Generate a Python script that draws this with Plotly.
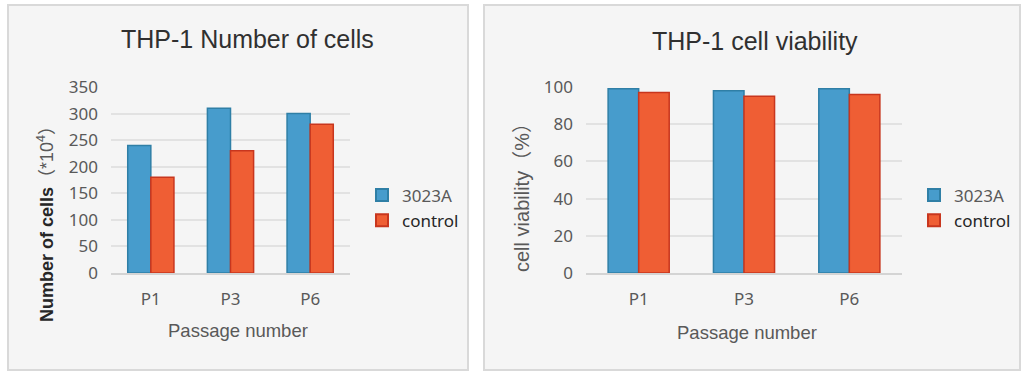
import plotly.graph_objects as go

passages = ["P1", "P3", "P6"]
series_names = ["3023A", "control"]
cells_3023a = [240, 310, 300]
cells_control = [180, 230, 280]
viab_3023a = [99, 98, 99]
viab_control = [97, 95, 96]

W, H = 1027, 379
def px(x):
    return x / W
def py(y):
    return 1 - y / H

blue_fill = "#479ccc"
blue_line = "#2f7fa6"
red_fill = "#ef5e34"
red_line = "#c8361e"
tick_col = "#595959"
tick_font = dict(family="Noto Sans, Open Sans, sans-serif", size=17, color=tick_col)

fig = go.Figure()

fig.add_trace(go.Bar(x=passages, y=cells_3023a, name="<span style='color:#595959'>3023A</span>",
                     marker=dict(color=blue_fill, line=dict(color=blue_line, width=1.5)),
                     xaxis="x", yaxis="y", legend="legend", legendgroup="a"))
fig.add_trace(go.Bar(x=passages, y=cells_control, name="<span style='color:#262626'>control</span>",
                     marker=dict(color=red_fill, line=dict(color=red_line, width=1.5)),
                     xaxis="x", yaxis="y", legend="legend", legendgroup="b"))
fig.add_trace(go.Bar(x=passages, y=viab_3023a, name="<span style='color:#595959'>3023A</span>",
                     marker=dict(color=blue_fill, line=dict(color=blue_line, width=1.5)),
                     xaxis="x2", yaxis="y2", legend="legend2", legendgroup="c"))
fig.add_trace(go.Bar(x=passages, y=viab_control, name="<span style='color:#262626'>control</span>",
                     marker=dict(color=red_fill, line=dict(color=red_line, width=1.5)),
                     xaxis="x2", yaxis="y2", legend="legend2", legendgroup="d"))

ydom = [py(273), py(87)]
xaxis_common = dict(showline=True, linecolor="#d4d4d4", linewidth=2, showgrid=False,
                    ticks="", tickfont=tick_font, ticklabelstandoff=10, fixedrange=True,
                    automargin=False)
yaxis_common = dict(showline=False, showgrid=True, gridcolor="#e2e2e2", gridwidth=1.5,
                    zeroline=False, ticks="", tickfont=tick_font, ticklabelstandoff=12,
                    fixedrange=True, automargin=False)

legend_common = dict(font=dict(family="Noto Sans, Open Sans, sans-serif", size=17, color=tick_col),
                     bgcolor="rgba(0,0,0,0)", xanchor="left", yanchor="middle",
                     xref="container", yref="container",
                     tracegroupgap=0, itemsizing="constant")

fig.update_layout(
    width=W, height=H,
    margin=dict(l=0, r=0, t=0, b=0, pad=0, autoexpand=False),
    paper_bgcolor="white",
    plot_bgcolor="rgba(0,0,0,0)",
    barmode="group", bargap=0.42, bargroupgap=0,
    xaxis=dict(domain=[px(111), px(350)], anchor="y", **xaxis_common),
    yaxis=dict(domain=ydom, anchor="x", range=[0, 350], dtick=50, **yaxis_common),
    xaxis2=dict(domain=[px(586), px(902)], anchor="y2", **xaxis_common),
    yaxis2=dict(domain=ydom, anchor="x2", range=[0, 100], dtick=20, **yaxis_common),
    legend=dict(x=px(362), y=py(208), **legend_common),
    legend2=dict(x=px(914), y=py(208), **legend_common),
    shapes=[
        dict(type="rect", xref="paper", yref="paper", x0=px(8), x1=px(468), y0=py(370), y1=py(5),
             fillcolor="#f5f5f5", line=dict(color="#d9d9d9", width=2), layer="below"),
        dict(type="rect", xref="paper", yref="paper", x0=px(484), x1=px(1020), y0=py(370), y1=py(5),
             fillcolor="#f5f5f5", line=dict(color="#d9d9d9", width=2), layer="below"),
    ],
)

title_font = dict(family="Liberation Sans, Arial, sans-serif", size=25, color="#303030")
axis_title_font = dict(family="Liberation Sans, Arial, sans-serif", size=18.5, color=tick_col)

annotations = [
    dict(text="THP-1 Number of cells", x=px(247), y=py(39), font=title_font),
    dict(text="THP-1 cell viability", x=px(755), y=py(41), font=title_font),
    dict(text="Passage number", x=px(238), y=py(330), font=axis_title_font),
    dict(text="Passage number", x=px(747), y=py(332), font=axis_title_font),
    dict(text="<b>Number of cells</b><span style='color:#595959'>（*10<sup>4</sup>）</span>",
         x=px(45), y=py(220), textangle=-90,
         font=dict(family="Liberation Sans, Arial, Noto Sans CJK SC, sans-serif", size=18, color="#262626")),
    dict(text="cell viability（%）", x=px(522), y=py(193), textangle=-90,
         font=dict(family="Liberation Sans, Arial, Noto Sans CJK SC, sans-serif", size=20, color=tick_col)),
]
for a in annotations:
    a.update(xref="paper", yref="paper", showarrow=False, xanchor="center", yanchor="middle")
fig.update_layout(annotations=annotations)

fig.write_html("out.html", config={"displayModeBar": False},
               post_script="document.body.style.margin='0';")
